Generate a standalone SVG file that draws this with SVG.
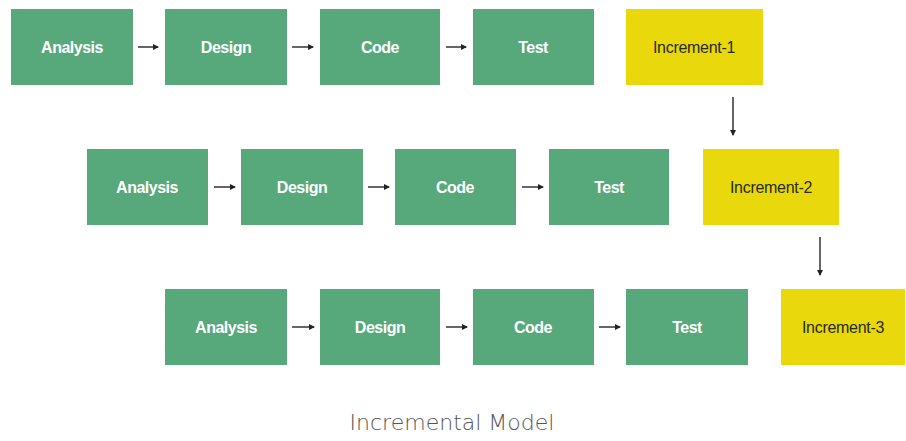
<svg xmlns="http://www.w3.org/2000/svg" width="906" height="441" viewBox="0 0 906 441">
<defs>
<marker id="ah" markerWidth="6" markerHeight="6" refX="5" refY="3" orient="auto" markerUnits="userSpaceOnUse"><path d="M0,0 L6,3 L0,6 z" fill="#222"/></marker>
<style>
.g{fill:#57a87b}
.y{fill:#e8d80c}
.t{font-family:"Liberation Sans",Arial,sans-serif;font-weight:bold;font-size:16px;fill:#ffffff;text-anchor:middle;dominant-baseline:central;letter-spacing:-0.5px}
.ti{font-family:"Liberation Sans",Arial,sans-serif;font-size:16px;fill:#2a2a1a;text-anchor:middle;dominant-baseline:central;letter-spacing:-0.3px}
.c{stroke:#333;stroke-width:1.5;fill:none;marker-end:url(#ah)}
.cap{font-family:"DejaVu Sans","Liberation Sans",sans-serif;font-size:22px;font-weight:200;fill:#555;text-anchor:middle}
</style>
</defs>
<rect width="906" height="441" fill="#ffffff"/>
<g id="r1-analysis"><rect class="g" x="11" y="9" width="122" height="76"/><text class="t" x="72" y="47">Analysis</text></g>
<g id="r1-design"><rect class="g" x="165" y="9" width="122" height="76"/><text class="t" x="226" y="47">Design</text></g>
<g id="r1-code"><rect class="g" x="320" y="9" width="120" height="76"/><text class="t" x="380" y="47">Code</text></g>
<g id="r1-test"><rect class="g" x="473" y="9" width="121" height="76"/><text class="t" x="533" y="47">Test</text></g>
<g id="inc1"><rect class="y" x="626" y="9" width="137" height="76"/><text class="ti" x="694" y="47">Increment-1</text></g>
<g id="r2-analysis"><rect class="g" x="87" y="149" width="121" height="76"/><text class="t" x="147" y="187">Analysis</text></g>
<g id="r2-design"><rect class="g" x="241" y="149" width="122" height="76"/><text class="t" x="302" y="187">Design</text></g>
<g id="r2-code"><rect class="g" x="395" y="149" width="121" height="76"/><text class="t" x="455" y="187">Code</text></g>
<g id="r2-test"><rect class="g" x="549" y="149" width="120" height="76"/><text class="t" x="609" y="187">Test</text></g>
<g id="inc2"><rect class="y" x="703" y="149" width="136" height="76"/><text class="ti" x="771" y="187">Increment-2</text></g>
<g id="r3-analysis"><rect class="g" x="165" y="289" width="122" height="76"/><text class="t" x="226" y="327">Analysis</text></g>
<g id="r3-design"><rect class="g" x="320" y="289" width="120" height="76"/><text class="t" x="380" y="327">Design</text></g>
<g id="r3-code"><rect class="g" x="473" y="289" width="121" height="76"/><text class="t" x="533" y="327">Code</text></g>
<g id="r3-test"><rect class="g" x="626" y="289" width="122" height="76"/><text class="t" x="687" y="327">Test</text></g>
<g id="inc3"><rect class="y" x="781" y="289" width="124" height="76"/><text class="ti" x="843" y="327">Increment-3</text></g>
<g id="connectors">
<line class="c" x1="138" y1="47" x2="158" y2="47"/>
<line class="c" x1="292" y1="47" x2="313" y2="47"/>
<line class="c" x1="446" y1="47" x2="466" y2="47"/>
<line class="c" x1="733" y1="97" x2="733" y2="135"/>
<line class="c" x1="214" y1="187" x2="235" y2="187"/>
<line class="c" x1="368" y1="187" x2="389" y2="187"/>
<line class="c" x1="522" y1="187" x2="543" y2="187"/>
<line class="c" x1="820" y1="237" x2="820" y2="275"/>
<line class="c" x1="292" y1="327" x2="314" y2="327"/>
<line class="c" x1="446" y1="327" x2="467" y2="327"/>
<line class="c" x1="599" y1="327" x2="620" y2="327"/>
</g>
<text class="cap" x="452" y="430">Incremental Model</text>
</svg>
